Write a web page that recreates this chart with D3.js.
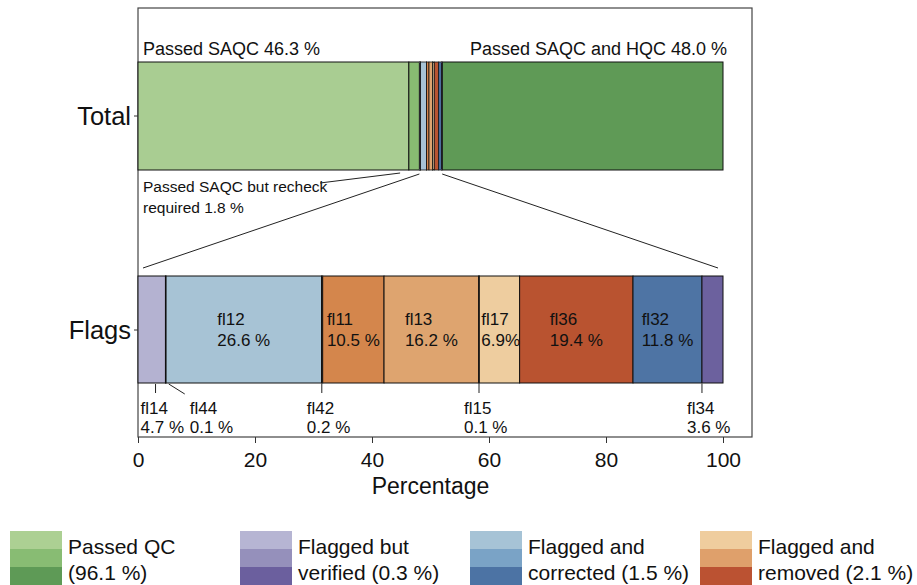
<!DOCTYPE html>
<html>
<head>
<meta charset="utf-8">
<script src="https://cdn.jsdelivr.net/npm/d3@7"></script>
<style>
  body { margin: 0; background: #fff; }
  text { font-family: "Liberation Sans", Arial, Helvetica, sans-serif; fill: #111; }
</style>
</head>
<body>
<div id="chart"></div>
<script>
// data
var total_parts = ['Passed SAQC', 'Passed SAQC but recheck required', 'Flagged', 'Passed SAQC and HQC']
var total_values = [46.3, 1.8, 3.9, 48.0]
var total_colors = ['#a9cd92', '#88bb72', null, '#5f9a56']

var flag_names = ['fl14', 'fl44', 'fl12', 'fl42', 'fl11', 'fl13', 'fl15', 'fl17', 'fl36', 'fl32', 'fl34']
var flag_values = [4.7, 0.1, 26.6, 0.2, 10.5, 16.2, 0.1, 6.9, 19.4, 11.8, 3.6]
var flag_labels = ['4.7 %', '0.1 %', '26.6 %', '0.2 %', '10.5 %', '16.2 %', '0.1 %', '6.9%', '19.4 %', '11.8 %', '3.6 %']
var flag_colors = ['#b4b2d1', '#9591ba', '#a7c3d5', '#7ba3c6', '#d4864c', '#dea46f', '#c96b3e', '#eecd9f', '#b95330', '#4e74a4', '#6c619e']

var x_ticks = [0, 20, 40, 60, 80, 100]

var legend_titles = [['Passed QC', '(96.1 %)'], ['Flagged but', 'verified (0.3 %)'],
    ['Flagged and', 'corrected (1.5 %)'], ['Flagged and', 'removed (2.1 %)']]
var legend_colors = [['#acd093', '#88bc73', '#5e9a56'], ['#b6b5d3', '#9590bb', '#6b5f9e'],
    ['#a6c3d6', '#7aa3c6', '#4c73a4'], ['#efcd9e', '#dfa06b', '#bb5232']]

// layout
var width = 917, height = 585
var panel = { left: 138, top: 8, right: 752, bottom: 437 }
var total_y = 62, flags_y = 276, bar_h = 108

var svg = d3.select('#chart').append('svg')
    .attr('width', width)
    .attr('height', height)

var x = d3.scaleLinear().domain([0, 100]).range([138, 723])

// cumulative starts
var cum = 0
var total_data = total_values.map((v, i) => { var d = { i: i, start: cum, value: v }; cum += v; return d })
cum = 0
var flag_data = flag_values.map((v, i) => { var d = { i: i, name: flag_names[i], start: cum, value: v }; cum += v; return d })
var flag_sum = cum

// panel
svg.append('rect')
    .attr('x', panel.left).attr('y', panel.top)
    .attr('width', panel.right - panel.left).attr('height', panel.bottom - panel.top)
    .attr('fill', 'none').attr('stroke', '#444').attr('stroke-width', 1.2)

// total bar (green parts)
svg.selectAll('rect.total')
    .data(total_data.filter(d => total_colors[d.i]))
    .enter().append('rect')
    .attr('class', 'total')
    .attr('x', d => x(d.start))
    .attr('y', total_y)
    .attr('width', d => x(d.start + d.value) - x(d.start))
    .attr('height', bar_h)
    .attr('fill', d => total_colors[d.i])
    .attr('stroke', '#111').attr('stroke-width', 1)

// flagged part inside total bar
var flag_block = total_data[2]
var xt = d3.scaleLinear().domain([0, flag_sum])
    .range([x(flag_block.start), x(flag_block.start + flag_block.value)])
svg.selectAll('rect.tflag')
    .data(flag_data)
    .enter().append('rect')
    .attr('class', 'tflag')
    .attr('x', d => xt(d.start))
    .attr('y', total_y)
    .attr('width', d => xt(d.start + d.value) - xt(d.start))
    .attr('height', bar_h)
    .attr('fill', d => flag_colors[d.i])
    .attr('stroke', '#111').attr('stroke-width', 0.8)

// flags bar
var xf = d3.scaleLinear().domain([0, flag_sum]).range([138, 723])
svg.selectAll('rect.flag')
    .data(flag_data)
    .enter().append('rect')
    .attr('class', 'flag')
    .attr('x', d => xf(d.start))
    .attr('y', flags_y)
    .attr('width', d => xf(d.start + d.value) - xf(d.start))
    .attr('height', bar_h - 1)
    .attr('fill', d => flag_colors[d.i])
    .attr('stroke', '#111').attr('stroke-width', 1)

// labels inside flags bar
var big = flag_data.filter(d => d.value > 5)
big.forEach(d => {
    var cx = xf(d.start + d.value / 2)
    var t = svg.append('text').attr('font-size', 17)
    var l1 = t.append('tspan').attr('y', 325).text(d.name)
    var l2 = t.append('tspan').attr('y', 346).text(flag_labels[d.i])
    var w = l2.node().getComputedTextLength()
    var lx = Math.max(cx - w / 2, xf(d.start) + 2)
    l1.attr('x', lx)
    l2.attr('x', lx)
})

// labels under flags bar for small flags
var small_pos = { fl14: 3.0, fl44: 4.75, fl42: 31.45, fl15: 58.35, fl34: 96.5 }
flag_data.filter(d => d.value <= 5).forEach(d => {
    var tx = xf(small_pos[d.name])
    var lx = tx - 15
    if (d.name == 'fl44') {
        svg.append('line')
            .attr('x1', tx + 3).attr('y1', 384).attr('x2', tx + 19).attr('y2', 394)
            .attr('stroke', '#222').attr('stroke-width', 1)
        lx = tx + 24
    } else {
        svg.append('line')
            .attr('x1', tx).attr('y1', 384).attr('x2', tx).attr('y2', 393)
            .attr('stroke', '#222').attr('stroke-width', 1)
    }
    svg.append('text').attr('font-size', 17).attr('x', lx).attr('y', 414).text(d.name)
    svg.append('text').attr('font-size', 17).attr('x', lx).attr('y', 433).text(flag_labels[d.i])
})

// top labels
svg.append('text').attr('font-size', 18).attr('x', 143).attr('y', 55)
    .text('Passed SAQC ' + total_values[0].toFixed(1) + ' %')
svg.append('text').attr('font-size', 18).attr('x', 727).attr('y', 55)
    .attr('text-anchor', 'end')
    .text('Passed SAQC and HQC ' + total_values[3].toFixed(1) + ' %')

svg.append('text').attr('font-size', 15.5).attr('x', 143).attr('y', 192).text('Passed SAQC but recheck')
svg.append('text').attr('font-size', 15.5).attr('x', 143).attr('y', 213)
    .text('required ' + total_values[1].toFixed(1) + ' %')
svg.append('line')
    .attr('x1', 320).attr('y1', 183).attr('x2', x(total_values[0] + total_values[1] / 2) - 14).attr('y2', 173)
    .attr('stroke', '#222').attr('stroke-width', 1)

// zoom lines
svg.append('line')
    .attr('x1', x(flag_block.start)).attr('y1', 174).attr('x2', 143).attr('y2', 268)
    .attr('stroke', '#222').attr('stroke-width', 1)
svg.append('line')
    .attr('x1', x(flag_block.start + flag_block.value)).attr('y1', 174).attr('x2', 718).attr('y2', 268)
    .attr('stroke', '#222').attr('stroke-width', 1)

// y labels
var y_rows = [['Total', total_y + bar_h / 2], ['Flags', flags_y + bar_h / 2]]
y_rows.forEach(r => {
    svg.append('text').attr('font-size', 25.5).attr('x', 131).attr('y', r[1] + 9)
        .attr('text-anchor', 'end').text(r[0])
    svg.append('line').attr('x1', 134).attr('x2', 138).attr('y1', r[1]).attr('y2', r[1])
        .attr('stroke', '#333')
})

// x axis
var axis = svg.append('g')
    .attr('transform', `translate(0,${panel.bottom})`)
    .call(d3.axisBottom(x).tickValues(x_ticks).tickSize(6).tickSizeOuter(0).tickPadding(9))
axis.select('.domain').remove()
axis.selectAll('.tick line').attr('stroke', '#333')
axis.selectAll('.tick text').attr('font-size', 21).attr('fill', '#111')
    .style('font-family', '"Liberation Sans", Arial, sans-serif')

svg.append('text').attr('font-size', 23).attr('x', x(50)).attr('y', 494)
    .attr('text-anchor', 'middle').text('Percentage')

// legend
var legend = svg.selectAll('g.legend')
    .data(legend_titles)
    .enter().append('g')
    .attr('class', 'legend')
    .attr('transform', (d, i) => `translate(${10 + i * 230},531)`)
legend.each(function (d, i) {
    var g = d3.select(this)
    g.selectAll('rect')
        .data(legend_colors[i])
        .enter().append('rect')
        .attr('x', 0).attr('y', (c, j) => j * 18)
        .attr('width', 52).attr('height', 18)
        .attr('fill', c => c)
    g.append('text').attr('font-size', 21).attr('x', 58).attr('y', 23).text(d[0])
    g.append('text').attr('font-size', 21).attr('x', 58).attr('y', 49).text(d[1])
})
</script>
</body>
</html>
